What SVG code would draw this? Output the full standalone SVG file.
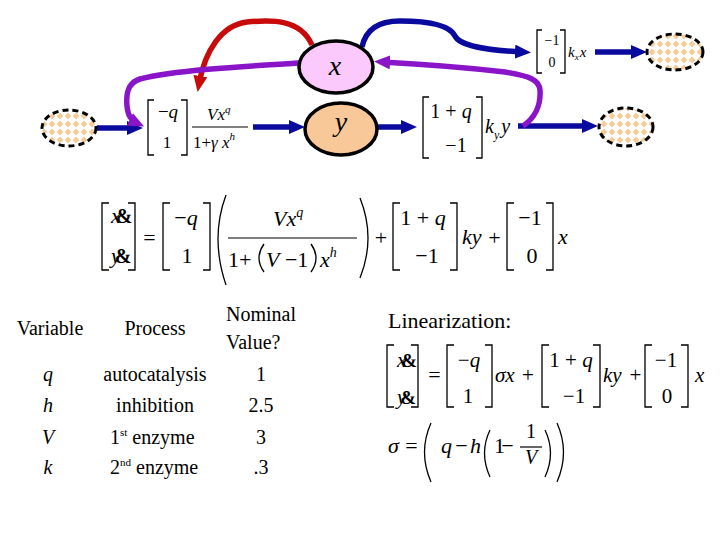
<svg xmlns="http://www.w3.org/2000/svg" width="720" height="540" viewBox="0 0 720 540" font-family="'Liberation Serif', 'DejaVu Serif', serif">
<style>
text{font-family:'Liberation Serif','DejaVu Serif',serif;fill:#000}
.i{font-style:italic}
.b{font-weight:bold}
.br{fill:none;stroke:#000;stroke-width:1.3}
.c{fill:none;stroke-width:5.5;stroke-linecap:butt}
.blue{stroke:#0a0a9e}
.red{stroke:#c80a0a}
.pur{stroke:#8a14c8}
.sink{fill:url(#chk);stroke:#000;stroke-width:3;stroke-dasharray:6 4}
</style>
<defs>
<pattern id="chk" width="8" height="8" patternUnits="userSpaceOnUse">
<rect width="8" height="8" fill="#fff"/>
<polygon points="4,0.6 7.4,4 4,7.4 0.6,4" fill="#f5cb98"/>
</pattern>
<marker id="ab" viewBox="0 0 16 14" refX="8" refY="7" markerWidth="16" markerHeight="14" markerUnits="userSpaceOnUse" orient="auto"><path d="M0,0 L16,7 L0,14 z" fill="#0a0a9e"/></marker>
<marker id="ar" viewBox="0 0 16 14" refX="8" refY="7" markerWidth="16" markerHeight="14" markerUnits="userSpaceOnUse" orient="auto"><path d="M0,0 L16,7 L0,14 z" fill="#c80a0a"/></marker>
<marker id="ap" viewBox="0 0 16 14" refX="8" refY="7" markerWidth="16" markerHeight="14" markerUnits="userSpaceOnUse" orient="auto"><path d="M0,0 L16,7 L0,14 z" fill="#8a14c8"/></marker>
</defs>
<rect width="720" height="540" fill="#fff"/>

<g id="connectors">
<path class="c blue" d="M97,128 H135" marker-end="url(#ab)"/>
<path class="c blue" d="M253,127 H297" marker-end="url(#ab)"/>
<path class="c blue" d="M378,127 H409" marker-end="url(#ab)"/>
<path class="c blue" d="M518,126 H590" marker-end="url(#ab)"/>
<path class="c blue" d="M595,52 H639" marker-end="url(#ab)"/>
<path class="c blue" d="M362,47 C366,28 380,21 400,21 C430,21 450,26 455,36 C460,46 485,50 523,52" marker-end="url(#ab)"/>
<path class="c red" d="M312,45 C300,18 270,20 247,22 C222,25 205,50 199,84" marker-end="url(#ar)"/>
<path class="c pur" d="M299,63 C250,66 175,70 140,79 C127,83 126,95 127,106 C128,116 131,120 137,123" marker-end="url(#ap)"/>
<path class="c pur" d="M523,126 C535,118 541,105 540,90 C539,80 530,76 505,72 C470,68 420,64 382,62" marker-end="url(#ap)"/>
</g>

<g id="source"><ellipse class="sink" cx="69" cy="128" rx="27" ry="18"/></g>
<g id="sink-x"><ellipse class="sink" cx="675" cy="52" rx="28" ry="18"/></g>
<g id="sink-y"><ellipse class="sink" cx="626" cy="127" rx="27" ry="19"/></g>

<g id="node-x">
<ellipse cx="336" cy="67" rx="37" ry="26" fill="#fbc9fb" stroke="#000" stroke-width="3.5"/>
<text class="i" x="335" y="75" font-size="28" text-anchor="middle">x</text>
</g>
<g id="node-y">
<ellipse cx="341" cy="129" rx="36" ry="26" fill="#f9c898" stroke="#000" stroke-width="3.5"/>
<text class="i" x="341" y="131" font-size="28" text-anchor="middle">y</text>
</g>

<g id="rate-1">
<path class="br" d="M154,100 H148 V155 H154 M181,100 H187 V155 H181"/>
<text x="168" y="118" font-size="19" text-anchor="middle">−<tspan class="i">q</tspan></text>
<text x="167" y="148" font-size="17" text-anchor="middle">1</text>
<text class="i" x="207" y="120" font-size="17">Vx<tspan dy="-7" font-size="11">q</tspan></text>
<line x1="192" y1="127" x2="248" y2="127" stroke="#000" stroke-width="1.2"/>
<text x="193" y="148" font-size="17">1+<tspan class="i">γ x</tspan><tspan class="i" dy="-8" font-size="11">h</tspan></text>
</g>

<g id="rate-2">
<path class="br" d="M429,97 H423 V158 H429 M476,97 H482 V158 H476"/>
<text x="451" y="118" font-size="20" text-anchor="middle">1 + <tspan class="i">q</tspan></text>
<text x="456" y="152" font-size="20" text-anchor="middle">−1</text>
<text class="i" x="485" y="133" font-size="20">k<tspan dy="6" font-size="12">y</tspan><tspan dy="-6" dx="2">y</tspan></text>
</g>

<g id="rate-3">
<path class="br" d="M542,30 H537 V73 H542 M560,30 H565 V73 H560"/>
<text x="552" y="45" font-size="14" text-anchor="middle">−1</text>
<text x="552" y="67" font-size="14" text-anchor="middle">0</text>
<text class="i" x="568" y="57" font-size="15">k<tspan dy="3" font-size="9">x</tspan><tspan dy="-3" dx="1">x</tspan></text>
</g>

<g id="equation">
<path class="br" d="M109,203 H102 V270 H109 M128,203 H135 V270 H128"/>
<text x="111" y="223" font-size="22"><tspan class="i">x</tspan><tspan class="b" dx="-5" font-size="20">&amp;</tspan></text>
<text x="111" y="263" font-size="22"><tspan class="i">y</tspan><tspan class="b" dx="-6" font-size="20">&amp;</tspan></text>
<text x="149.5" y="245" font-size="22" text-anchor="middle">=</text>
<path class="br" d="M170,203 H163 V270 H170 M203,203 H210 V270 H203"/>
<text x="186" y="225" font-size="22" text-anchor="middle">−<tspan class="i">q</tspan></text>
<text x="187" y="263" font-size="22" text-anchor="middle">1</text>
<path class="br" d="M226,195 Q210,238 226,285"/>
<text class="i" x="273" y="226" font-size="22">Vx<tspan dy="-9" font-size="14">q</tspan></text>
<line x1="228" y1="238" x2="357" y2="238" stroke="#000" stroke-width="1.2"/>
<text x="228" y="267" font-size="22">1+</text>
<path class="br" d="M264,244 Q254,258 264,272"/>
<text x="266" y="267" font-size="22"><tspan class="i">V</tspan> −1</text>
<path class="br" d="M311,244 Q321,258 311,272"/>
<text class="i" x="320" y="267" font-size="22">x<tspan dy="-10" font-size="14">h</tspan></text>
<path class="br" d="M360,198 Q376,238 360,278"/>
<text x="381" y="245" font-size="22" text-anchor="middle">+</text>
<path class="br" d="M400,203 H393 V270 H400 M450,203 H457 V270 H450"/>
<text x="423" y="225" font-size="22" text-anchor="middle">1 + <tspan class="i">q</tspan></text>
<text x="427" y="263" font-size="22" text-anchor="middle">−1</text>
<text class="i" x="462" y="244" font-size="22">ky</text>
<text x="494.5" y="245" font-size="22" text-anchor="middle">+</text>
<path class="br" d="M514,203 H507 V270 H514 M546,203 H553 V270 H546"/>
<text x="530" y="225" font-size="22" text-anchor="middle">−1</text>
<text x="532" y="263" font-size="22" text-anchor="middle">0</text>
<text class="i" x="558" y="244" font-size="22">x</text>
</g>

<g id="table">
<text x="226" y="321" font-size="20">Nominal</text>
<text x="50" y="335" font-size="20" text-anchor="middle">Variable</text>
<text x="155" y="335" font-size="20" text-anchor="middle">Process</text>
<text x="226" y="349" font-size="20">Value?</text>
<text class="i" x="48" y="381" font-size="20" text-anchor="middle">q</text>
<text x="155" y="381" font-size="20" text-anchor="middle">autocatalysis</text>
<text x="261" y="381" font-size="20" text-anchor="middle">1</text>
<text class="i" x="48" y="412" font-size="20" text-anchor="middle">h</text>
<text x="155" y="412" font-size="20" text-anchor="middle">inhibition</text>
<text x="261" y="412" font-size="20" text-anchor="middle">2.5</text>
<text class="i" x="48" y="444" font-size="20" text-anchor="middle">V</text>
<text x="110" y="444" font-size="20">1<tspan dy="-8" font-size="11">st</tspan><tspan dy="8"> enzyme</tspan></text>
<text x="261" y="444" font-size="20" text-anchor="middle">3</text>
<text class="i" x="48" y="474" font-size="20" text-anchor="middle">k</text>
<text x="110" y="474" font-size="20">2<tspan dy="-8" font-size="11">nd</tspan><tspan dy="8"> enzyme</tspan></text>
<text x="261" y="474" font-size="20" text-anchor="middle">.3</text>
</g>

<g id="linearization">
<text x="388" y="328" font-size="22">Linearization:</text>
<path class="br" d="M394,345 H387 V407 H394 M411,345 H418 V407 H411"/>
<text x="397" y="367" font-size="21"><tspan class="i">x</tspan><tspan class="b" dx="-5" font-size="19">&amp;</tspan></text>
<text x="397" y="404" font-size="21"><tspan class="i">y</tspan><tspan class="b" dx="-6" font-size="19">&amp;</tspan></text>
<text x="434.5" y="382" font-size="22" text-anchor="middle">=</text>
<path class="br" d="M454,345 H447 V407 H454 M485,345 H492 V407 H485"/>
<text x="469" y="367" font-size="21" text-anchor="middle">−<tspan class="i">q</tspan></text>
<text x="468" y="403" font-size="21" text-anchor="middle">1</text>
<text class="i" x="495" y="382" font-size="21">σx</text>
<text x="528" y="382" font-size="21" text-anchor="middle">+</text>
<path class="br" d="M549,345 H542 V407 H549 M593,345 H600 V407 H593"/>
<text x="571" y="367" font-size="21" text-anchor="middle">1 + <tspan class="i">q</tspan></text>
<text x="574" y="403" font-size="21" text-anchor="middle">−1</text>
<text class="i" x="603" y="382" font-size="21">ky</text>
<text x="635.5" y="382" font-size="21" text-anchor="middle">+</text>
<path class="br" d="M652,345 H645 V407 H652 M681,345 H688 V407 H681"/>
<text x="666" y="367" font-size="21" text-anchor="middle">−1</text>
<text x="667" y="403" font-size="21" text-anchor="middle">0</text>
<text class="i" x="695" y="382" font-size="21">x</text>
</g>

<g id="sigma">
<text class="i" x="388" y="453" font-size="22">σ</text>
<text x="411.5" y="453" font-size="22" text-anchor="middle">=</text>
<path class="br" d="M431,423 Q418,452 431,482"/>
<text class="i" x="441" y="453" font-size="22">q</text>
<text x="461.5" y="453" font-size="22" text-anchor="middle">−</text>
<text class="i" x="470" y="453" font-size="22">h</text>
<path class="br" d="M490,430 Q479,453 490,477"/>
<text x="494" y="453" font-size="22">1</text>
<text x="507.5" y="453" font-size="22" text-anchor="middle">−</text>
<text x="531" y="438" font-size="20" text-anchor="middle">1</text>
<line x1="520" y1="447" x2="542" y2="447" stroke="#000" stroke-width="1.2"/>
<text class="i" x="531" y="464" font-size="20" text-anchor="middle">V</text>
<path class="br" d="M545,430 Q556,453 545,477"/>
<path class="br" d="M557,423 Q570,452 557,482"/>
</g>
</svg>
